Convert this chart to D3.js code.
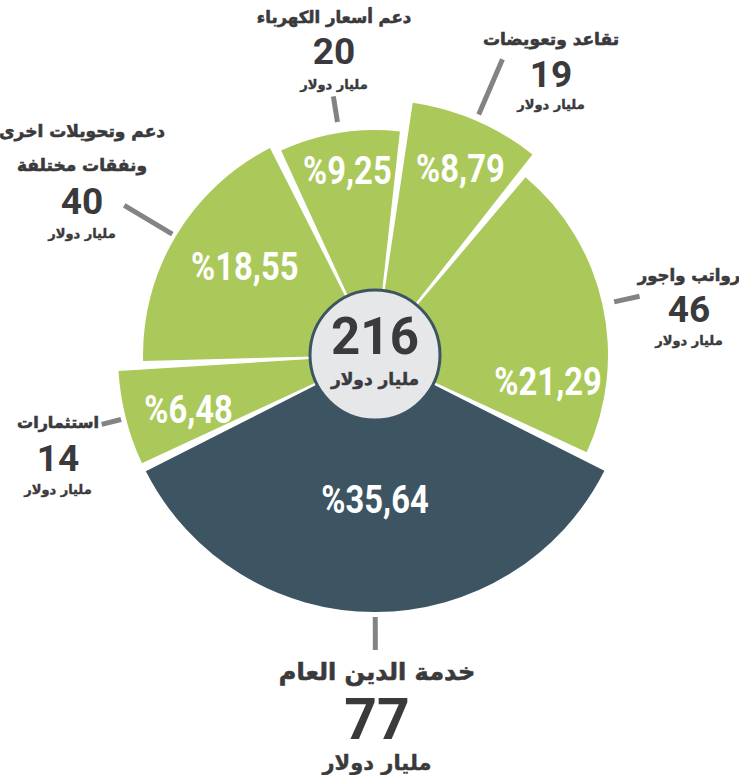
<!DOCTYPE html>
<html lang="ar">
<head>
<meta charset="utf-8">
<title>نفقات الموازنة 216 مليار دولار</title>
<script src="https://cdnjs.cloudflare.com/ajax/libs/d3/7.8.5/d3.min.js"></script>
<style>
  body { margin: 0; background: #fff; }
  svg { display: block; }
</style>
</head>
<body>
<script>
// slices clockwise, starting just right of 12 o'clock
const categories = ["تقاعد وتعويضات", "رواتب واجور", "خدمة الدين العام", "استثمارات",
                    "دعم وتحويلات اخرى|ونفقات مختلفة", "دعم أسعار الكهرباء"];
const amounts = [19, 46, 77, 14, 40, 20];          // billion dollars
const shares = [8.79, 21.29, 35.64, 6.48, 18.55, 9.25];  // percent
const unitLabel = "مليار دولار";

// layout only (not data)
const width = 739, height = 775;
const cx = 375, cy = 355;
const outerR = [255, 233, 257, 257, 232, 225];
const pctPos = [[24.5, 206], [98.5, 175], [180, 144], [254, 194], [304.5, 158], [351.5, 187]];
const leader = [[7, 60], [12, 26], [5, 33], [5, 20], [4, 56], [11, 26]];
const labelPos = [
  {x: 551, y: [45], n: 87, u: 109, s: 17},
  {x: 689, y: [281], n: 322, u: 345, s: 16.5},
  {x: 377, y: [680], n: 739, u: 770, s: 24, big: true},
  {x: 58, y: [428], n: 471, u: 494, s: 16},
  {x: 82, y: [137, 171], n: 214, u: 238, s: 17},
  {x: 334, y: [23], n: 64, u: 89, s: 16.5}
];

const green = "#abc95b", slate = "#3d5562", ink = "#3a3a3c", grey = "#838385";
const arabicFont = "'DejaVu Sans', sans-serif";
const numFont = "Roboto, 'Open Sans', sans-serif";

const data = categories.map((c, i) => ({name: c, amount: amounts[i], share: shares[i], i: i}));
const total = d3.sum(amounts);

const start = 7.5 * Math.PI / 180;
const pie = d3.pie().sort(null).value(d => d.share)
  .startAngle(start).endAngle(start + 2 * Math.PI);
const arcs = pie(data);

const arc = d3.arc()
  .innerRadius(0)
  .outerRadius(d => outerR[d.index])
  .padAngle(0.09)
  .padRadius(100);

const svg = d3.select("body").append("svg")
  .attr("width", width)
  .attr("height", height);

const g = svg.append("g").attr("transform", `translate(${cx},${cy})`);

g.selectAll("path.slice")
  .data(arcs)
  .enter()
  .append("path")
  .attr("class", "slice")
  .attr("d", arc)
  .attr("fill", d => d.index === 2 ? slate : green);

const polar = (deg, r) => {
  const a = deg * Math.PI / 180;
  return [Math.sin(a) * r, -Math.cos(a) * r];
};

// leader lines along each slice's middle angle
g.selectAll("line.leader")
  .data(arcs)
  .enter()
  .append("line")
  .attr("class", "leader")
  .each(function(d) {
    const mid = (d.startAngle + d.endAngle) / 2 * 180 / Math.PI;
    const r0 = outerR[d.index] + leader[d.index][0];
    const p0 = polar(mid, r0), p1 = polar(mid, r0 + leader[d.index][1]);
    d3.select(this).attr("x1", p0[0]).attr("y1", p0[1]).attr("x2", p1[0]).attr("y2", p1[1]);
  })
  .attr("stroke", grey)
  .attr("stroke-width", 5);

// percent labels
const fmt = v => "%" + d3.format(".2f")(v).replace(".", ",");
g.selectAll("text.pct")
  .data(arcs)
  .enter()
  .append("text")
  .attr("class", "pct")
  .attr("transform", d => {
    const p = polar(pctPos[d.index][0], pctPos[d.index][1]);
    return `translate(${p[0]},${p[1]}) scale(0.84,1)`;
  })
  .attr("text-anchor", "middle")
  .attr("dy", "0.36em")
  .attr("fill", "#fff")
  .style("font-family", numFont)
  .style("font-weight", 700)
  .style("font-size", "39px")
  .text(d => fmt(d.data.share));

// centre disc
g.append("circle")
  .attr("r", 65)
  .attr("fill", "#e6e7e9")
  .attr("stroke", slate)
  .attr("stroke-width", 3);

g.append("text")
  .attr("text-anchor", "middle")
  .attr("y", -1)
  .attr("fill", ink)
  .style("font-family", numFont)
  .style("font-weight", 700)
  .style("font-size", "51px")
  .text(total);

g.append("text")
  .attr("text-anchor", "middle")
  .attr("y", 30)
  .attr("fill", ink)
  .attr("stroke", ink)
  .attr("stroke-width", 0.5)
  .style("font-family", arabicFont)
  .style("font-weight", 700)
  .style("font-size", "17px")
  .text(unitLabel);

// outside labels
const labels = svg.selectAll("g.label")
  .data(data)
  .enter()
  .append("g")
  .attr("class", "label")
  .attr("fill", ink)
  .attr("text-anchor", "middle");

labels.each(function(d) {
  const L = labelPos[d.i];
  const sel = d3.select(this);
  d.name.split("|").forEach((line, k) => {
    sel.append("text")
      .attr("x", L.x).attr("y", L.y[k])
      .attr("stroke", ink)
      .attr("stroke-width", 0.6)
      .style("font-family", arabicFont)
      .style("font-weight", 700)
      .style("font-size", L.s + "px")
      .text(line);
  });
  sel.append("text")
    .attr("x", L.x).attr("y", L.n)
    .style("font-family", numFont)
    .style("font-weight", 700)
    .style("font-size", L.big ? "57px" : "37px")
    .text(d.amount);
  sel.append("text")
    .attr("x", L.x).attr("y", L.u)
    .attr("stroke", ink)
    .attr("stroke-width", 0.4)
    .style("font-family", arabicFont)
    .style("font-weight", 700)
    .style("font-size", L.big ? "21px" : "13px")
    .text(unitLabel);
});
</script>
</body>
</html>
